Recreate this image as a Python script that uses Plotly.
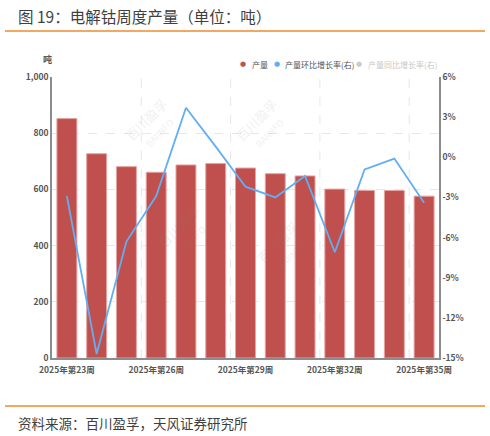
import plotly.graph_objects as go

weeks = [f"2025年第{w}周" for w in range(23, 36)]
output_t = [852, 727, 681, 661, 687, 692, 676, 656, 648, 601, 596, 596, 576]
mom_pct = [-2.9, -14.7, -6.3, -2.9, 3.7, 0.8, -2.2, -3.0, -1.4, -7.1, -0.9, -0.1, -3.4]
label_weeks = [weeks[i] for i in (0, 3, 6, 9, 12)]
left_ticks = [0, 200, 400, 600, 800, 1000]
right_ticks = [-15, -12, -9, -6, -3, 0, 3, 6]
right_labels = [f"{v}%" for v in right_ticks]

W, H = 490, 436
L, R, T, B = 52, 51, 77, 78
PW, PH = W - L - R, H - T - B

def px(x):
    return (x - L) / PW

def py(y):
    return (H - B - y) / PH

CJK = "Noto Sans CJK SC"
RED = "#C0504D"
BLUE = "#62AEF3"
TICK = dict(family=CJK, size=8.5, color="#555555", weight="bold")

fig = go.Figure()
fig.add_trace(go.Bar(x=weeks, y=output_t, name="产量",
                     marker=dict(color=RED, line=dict(color="#E7A3A1", width=1)),
                     showlegend=False))
fig.add_trace(go.Scatter(x=weeks, y=mom_pct, name="产量环比增长率(右)", yaxis="y2",
                         mode="lines", line=dict(color=BLUE, width=1.8),
                         showlegend=False))

shapes = []
for b in (2.5, 5.5, 8.5, 11.5):
    shapes.append(dict(type="line", xref="x", yref="paper", x0=b, x1=b, y0=0, y1=1,
                       line=dict(color="#E3E7F0", width=1, dash="dash"), layer="below"))
for yy in (31, 406):
    shapes.append(dict(type="line", xref="paper", yref="paper", x0=px(5), x1=px(485),
                       y0=py(yy), y1=py(yy), line=dict(color="#F08A2C", width=1.5)))

annotations = [
    dict(text="图 19：电解钴周度产量（单位：吨）", xref="paper", yref="paper",
         x=px(16), y=py(16), xanchor="left", yanchor="middle", showarrow=False,
         font=dict(family=CJK, size=15.5, color="#3F3F3F")),
    dict(text="资料来源：百川盈孚，天风证券研究所", xref="paper", yref="paper",
         x=px(16), y=py(423), xanchor="left", yanchor="middle", showarrow=False,
         font=dict(family=CJK, size=13.5, color="#3F3F3F")),
    dict(text="吨", xref="paper", yref="paper", x=px(47), y=py(59),
         xanchor="center", yanchor="middle", showarrow=False,
         font=dict(family=CJK, size=9, color="#555555", weight="bold")),
]
legend_items = [
    (243.3, 250, "产量", RED, "#555555"),
    (276.7, 283, "产量环比增长率(右)", BLUE, "#555555"),
    (359.3, 366, "产量同比增长率(右)", "#CCCCCC", "#C8C8C8"),
]
for dx, tx, txt, dot, tc in legend_items:
    annotations.append(dict(text="●", xref="paper", yref="paper", x=px(dx), y=py(64),
                            xanchor="center", yanchor="middle", showarrow=False,
                            font=dict(family="DejaVu Sans", size=7, color=dot)))
    annotations.append(dict(text=txt, xref="paper", yref="paper", x=px(tx), y=py(64),
                            xanchor="left", yanchor="middle", showarrow=False,
                            font=dict(family=CJK, size=8, color=tc)))
for wx, wy in ((118, 92), (262, 92), (150, 232), (318, 248)):
    annotations.append(dict(text="百川盈孚<br><span style='font-size:9px'>BAIINFO</span>",
                            xref="paper", yref="paper", x=px(wx), y=py(wy),
                            showarrow=False, textangle=-45, opacity=0.12,
                            font=dict(family=CJK, size=13, color="#888888")))

fig.update_layout(
    width=W, height=H,
    margin=dict(l=L, r=R, t=T, b=B, autoexpand=False),
    paper_bgcolor="white", plot_bgcolor="white",
    bargap=0.33,
    font=dict(family=CJK, size=10, color="#555555"),
    xaxis=dict(type="category", tickmode="array", tickvals=label_weeks, ticktext=label_weeks,
               showgrid=False, showline=True, linecolor="#8C8C8C", linewidth=1.5,
               ticks="", tickfont=TICK, range=[-0.5, 12.5], ticklabelstandoff=3),
    yaxis=dict(range=[0, 1000], tickvals=left_ticks, tickformat=",", showgrid=True,
               gridcolor="#E3E7F0", griddash="dash", gridwidth=1, zeroline=False,
               showline=True, linecolor="#8C8C8C", linewidth=1.5, ticks="",
               tickfont=TICK),
    yaxis2=dict(range=[-15, 6], tickmode="array", tickvals=right_ticks, ticktext=right_labels,
                overlaying="y", side="right", showgrid=False, zeroline=False, showline=True,
                linecolor="#8C8C8C", linewidth=1.5, ticks="", tickfont=TICK),
    shapes=shapes,
    annotations=annotations,
    showlegend=False,
)

fig.write_html("out.html", config={"displayModeBar": False},
               post_script="document.body.style.margin='0';")
